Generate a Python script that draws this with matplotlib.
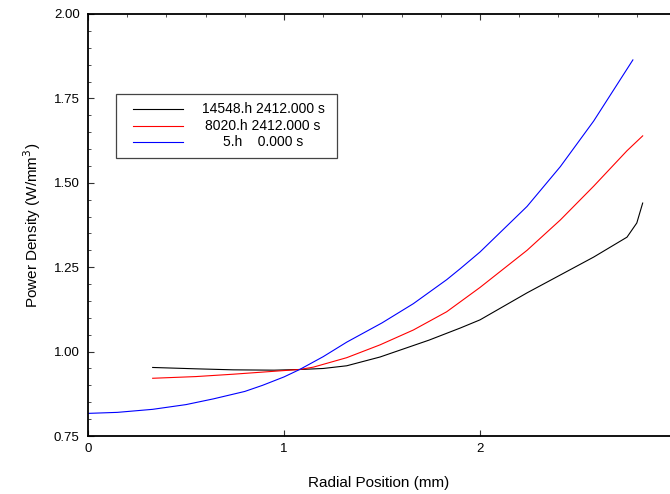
import matplotlib
matplotlib.use("Agg")
import matplotlib.pyplot as plt
from matplotlib.ticker import MultipleLocator, FixedLocator
from matplotlib.patches import Rectangle
from matplotlib.lines import Line2D

plt.rcParams['font.family'] = ['Liberation Sans', 'DejaVu Sans']

# ---- data ----
labels = ["14548.h 2412.000 s", "8020.h 2412.000 s", "5.h    0.000 s"]
colors = ["#000000", "#ff0000", "#0000ff"]

x_black = [0.33, 0.55, 0.74, 0.95, 1.08, 1.20, 1.32, 1.49, 1.74, 1.90, 2.00, 2.24, 2.58, 2.75, 2.80, 2.83]
y_black = [0.953, 0.949, 0.946, 0.945, 0.947, 0.950, 0.958, 0.984, 1.034, 1.070, 1.094, 1.174, 1.280, 1.339, 1.381, 1.440]

x_red = [0.33, 0.55, 0.74, 0.98, 1.08, 1.15, 1.32, 1.49, 1.66, 1.83, 2.00, 2.24, 2.41, 2.58, 2.75, 2.83]
y_red = [0.921, 0.926, 0.933, 0.943, 0.947, 0.954, 0.982, 1.020, 1.064, 1.118, 1.190, 1.300, 1.390, 1.490, 1.595, 1.639]

x_blue = [0.00, 0.15, 0.33, 0.50, 0.64, 0.80, 0.89, 1.00, 1.08, 1.20, 1.32, 1.50, 1.66, 1.83, 1.90, 2.00, 2.24, 2.41, 2.58, 2.78]
y_blue = [0.817, 0.820, 0.829, 0.843, 0.860, 0.882, 0.900, 0.925, 0.947, 0.985, 1.028, 1.085, 1.142, 1.213, 1.246, 1.295, 1.430, 1.548, 1.683, 1.864]

series_x = [x_black, x_red, x_blue]
series_y = [y_black, y_red, y_blue]

xticks = [0, 1, 2]
yticks = [0.75, 1.00, 1.25, 1.50, 1.75, 2.00]

# ---- figure ----
fig = plt.figure(figsize=(6.70, 4.94), dpi=100)
ax = fig.add_axes([88/670, 58/494, 582/670, 422/494])

for xs, ys, c in zip(series_x, series_y, colors):
    ax.plot(xs, ys, color=c, lw=0.8)

ax.set_xlim(0, 582/196)
ax.set_ylim(0.75, 2.00)
ax.spines['right'].set_visible(False)
for s in ['left', 'bottom', 'top']:
    ax.spines[s].set_linewidth(1.3)

ax.xaxis.set_major_locator(FixedLocator(xticks))
ax.set_xticklabels([str(t) for t in xticks])
ax.xaxis.set_minor_locator(MultipleLocator(0.2))
ax.yaxis.set_major_locator(FixedLocator(yticks))
ax.set_yticklabels([f"{t:.2f}" for t in yticks])
ax.yaxis.set_minor_locator(MultipleLocator(0.05))

ax.tick_params(axis='both', which='both', direction='in', labelsize=9.5, color='#333333')
ax.tick_params(axis='x', which='major', top=True, bottom=True, length=4, pad=5)
ax.tick_params(axis='x', which='minor', top=True, bottom=False, length=2.5)
ax.tick_params(axis='y', which='major', left=True, right=False, length=4, pad=6)
ax.tick_params(axis='y', which='minor', left=True, right=False, length=2.5)

ax.set_xlabel("Radial Position (mm)", fontsize=11, labelpad=15)
ax.set_ylabel("Power Density (W/mm$^3$)", fontsize=11, labelpad=8)

# ---- legend box drawn in axes coordinates ----
def px2ax(px, py):
    return ((px - 88) / 582, (436 - py) / 422)

x0, y0 = px2ax(116, 158)
x1, y1 = px2ax(337, 94)
ax.add_patch(Rectangle((x0, y0), x1 - x0, y1 - y0, transform=ax.transAxes,
                       fill=False, edgecolor='#444444', lw=0.9, zorder=5))
rows_py = [109, 126, 142]
for lab, c, py in zip(labels, colors, rows_py):
    lx0, ly = px2ax(133, py)
    lx1, _ = px2ax(183, py)
    ax.add_line(Line2D([lx0, lx1], [ly, ly], transform=ax.transAxes, color=c, lw=0.8, zorder=6))
    tx, _ = px2ax(263, py)
    ax.text(tx, ly, lab, transform=ax.transAxes, ha='center', va='center',
            fontsize=10, zorder=6)

fig.savefig("out.png", dpi=100)
